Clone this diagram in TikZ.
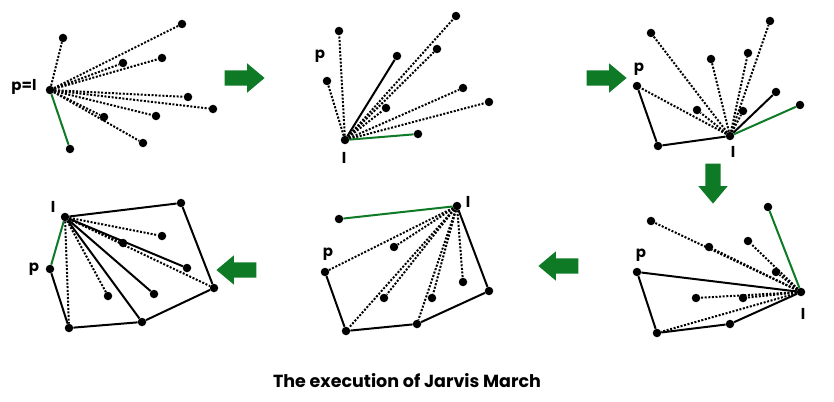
\documentclass[tikz,border=0pt]{standalone}
\usepackage{fontspec}
\setmainfont{Poppins}
\usetikzlibrary{shapes.arrows}

\definecolor{stepgreen}{RGB}{14,122,38}

\tikzset{
  pt/.style={circle, fill=black, inner sep=0pt, minimum size=8.5pt},
  hull/.style={black, line width=2pt},
  cand/.style={black, line width=2pt, dash pattern=on 2pt off 1.6pt},
  pick/.style={stepgreen, line width=2pt},
  lbl/.style={font=\bfseries\fontsize{15}{15}\selectfont, inner sep=0pt},
  stepar/.style={single arrow, fill=stepgreen, inner xsep=0pt, inner ysep=7.5pt,
    minimum height=40pt, single arrow head extend=7pt,
    single arrow tip angle=80, single arrow head indent=0pt}
}

\begin{document}
\begin{tikzpicture}[x=1pt,y=-1pt]
\useasboundingbox (0,0) rectangle (834,401);

% step 1
\node[pt] (l1) at (50,90) {};
\node[pt] (a1) at (63,38) {};
\node[pt] (b1) at (182,24) {};
\node[pt] (c1) at (162,58) {};
\node[pt] (d1) at (123,63) {};
\node[pt] (e1) at (188,97) {};
\node[pt] (f1) at (213,109) {};
\node[pt] (g1) at (156,116) {};
\node[pt] (h1) at (104,117) {};
\node[pt] (i1) at (143,143) {};
\node[pt] (j1) at (70,149) {};
\draw[cand] (l1) -- (a1);
\draw[cand] (l1) -- (b1);
\draw[cand] (l1) -- (c1);
\draw[cand] (l1) -- (d1);
\draw[cand] (l1) -- (e1);
\draw[cand] (l1) -- (f1);
\draw[cand] (l1) -- (g1);
\draw[cand] (l1) -- (h1);
\draw[cand] (l1) -- (i1);
\draw[pick] (l1) -- (j1);
\node[lbl] (t1) at (24,87) {p=l};

% step 2
\node[pt] (l2) at (345,140) {};
\node[pt] (a2) at (339,31) {};
\node[pt] (b2) at (327,81) {};
\node[pt] (c2) at (397,56) {};
\node[pt] (d2) at (456,16) {};
\node[pt] (e2) at (437,49) {};
\node[pt] (f2) at (386,108) {};
\node[pt] (g2) at (463,88) {};
\node[pt] (h2) at (489,102) {};
\node[pt] (j2) at (418,134) {};
\draw[cand] (l2) -- (a2);
\draw[cand] (l2) -- (b2);
\draw[hull] (l2) -- (c2);
\draw[cand] (l2) -- (d2);
\draw[cand] (l2) -- (e2);
\draw[cand] (l2) -- (f2);
\draw[cand] (l2) -- (g2);
\draw[cand] (l2) -- (h2);
\draw[pick] (l2) -- (j2);
\node[lbl] (p2t) at (320,56) {p};
\node[lbl] (l2t) at (344,158) {l};

% step 3
\node[pt] (l3) at (730,136) {};
\node[pt] (p3) at (637,86) {};
\node[pt] (q3) at (658,146) {};
\node[pt] (a3) at (651,33) {};
\node[pt] (b3) at (711,59) {};
\node[pt] (c3) at (748,53) {};
\node[pt] (d3) at (770,21) {};
\node[pt] (e3) at (697,110) {};
\node[pt] (f3) at (743,111) {};
\node[pt] (g3) at (776,92) {};
\node[pt] (j3) at (800,105) {};
\draw[hull] (p3) -- (q3) -- (l3);
\draw[hull] (l3) -- (g3);
\draw[cand] (l3) -- (p3);
\draw[cand] (l3) -- (a3);
\draw[cand] (l3) -- (b3);
\draw[cand] (l3) -- (c3);
\draw[cand] (l3) -- (d3);
\draw[cand] (l3) -- (e3);
\draw[cand] (l3) -- (f3);
\draw[pick] (l3) -- (j3);
\node[lbl] (p3t) at (639,69) {p};
\node[lbl] (l3t) at (733,152) {l};

% step 4
\node[pt] (l6) at (801,292) {};
\node[pt] (p6) at (637,272) {};
\node[pt] (q6) at (657,333) {};
\node[pt] (r6) at (730,324) {};
\node[pt] (a6) at (651,221) {};
\node[pt] (b6) at (709,247) {};
\node[pt] (c6) at (748,241) {};
\node[pt] (d6) at (776,272) {};
\node[pt] (e6) at (696,298) {};
\node[pt] (f6) at (743,298) {};
\node[pt] (j6) at (768,207) {};
\draw[hull] (p6) -- (q6) -- (r6) -- (l6);
\draw[hull] (p6) -- (l6);
\draw[cand] (l6) -- (a6);
\draw[cand] (l6) -- (b6);
\draw[cand] (l6) -- (c6);
\draw[cand] (l6) -- (d6);
\draw[cand] (l6) -- (e6);
\draw[cand] (l6) -- (f6);
\draw[cand] (l6) -- (q6);
\draw[pick] (l6) -- (j6);
\node[lbl] (p6t) at (641,255) {p};
\node[lbl] (l6t) at (803,314) {l};

% step 5
\node[pt] (l5) at (457,206) {};
\node[pt] (p5) at (325,272) {};
\node[pt] (q5) at (346,331) {};
\node[pt] (r5) at (417,324) {};
\node[pt] (s5) at (489,291) {};
\node[pt] (a5) at (394,247) {};
\node[pt] (b5) at (384,298) {};
\node[pt] (c5) at (432,298) {};
\node[pt] (d5) at (463,282) {};
\node[pt] (j5) at (339,219) {};
\draw[hull] (p5) -- (q5) -- (r5) -- (s5) -- (l5);
\draw[cand] (l5) -- (p5);
\draw[cand] (l5) -- (a5);
\draw[cand] (l5) -- (q5);
\draw[cand] (l5) -- (b5);
\draw[cand] (l5) -- (r5);
\draw[cand] (l5) -- (c5);
\draw[cand] (l5) -- (d5);
\draw[pick] (l5) -- (j5);
\node[lbl] (p5t) at (328,254) {p};
\node[lbl] (l5t) at (468,202) {l};

% step 6
\node[pt] (l4) at (65,217) {};
\node[pt] (p4) at (50,269) {};
\node[pt] (q4) at (69,328) {};
\node[pt] (r4) at (142,322) {};
\node[pt] (s4) at (214,288) {};
\node[pt] (t4) at (181,203) {};
\node[pt] (a4) at (162,236) {};
\node[pt] (b4) at (123,243) {};
\node[pt] (c4) at (187,268) {};
\node[pt] (d4) at (108,296) {};
\node[pt] (e4) at (154,294) {};
\draw[hull] (p4) -- (q4) -- (r4) -- (s4) -- (t4) -- (l4);
\draw[hull] (l4) -- (r4);
\draw[hull] (l4) -- (e4);
\draw[hull] (l4) -- (c4);
\draw[cand] (l4) -- (a4);
\draw[cand] (l4) -- (b4);
\draw[cand] (l4) -- (s4);
\draw[cand] (l4) -- (q4);
\draw[cand] (l4) -- (d4);
\draw[pick] (l4) -- (p4);
\node[lbl] (l4t) at (53,207) {l};
\node[lbl] (p4t) at (34,269) {p};

% arrows between the steps
\node[stepar] (ar1) at (240,78) {};
\node[stepar] (ar2) at (602,78) {};
\node[stepar, rotate=-90] (ar3) at (713,179) {};
\node[stepar, shape border rotate=180] (ar4) at (563,266) {};
\node[stepar, shape border rotate=180] (ar5) at (241,270) {};

\node[font=\bfseries\fontsize{17.5}{17.5}\selectfont] (cap) at (407,381) {The execution of Jarvis March};
\end{tikzpicture}
\end{document}
